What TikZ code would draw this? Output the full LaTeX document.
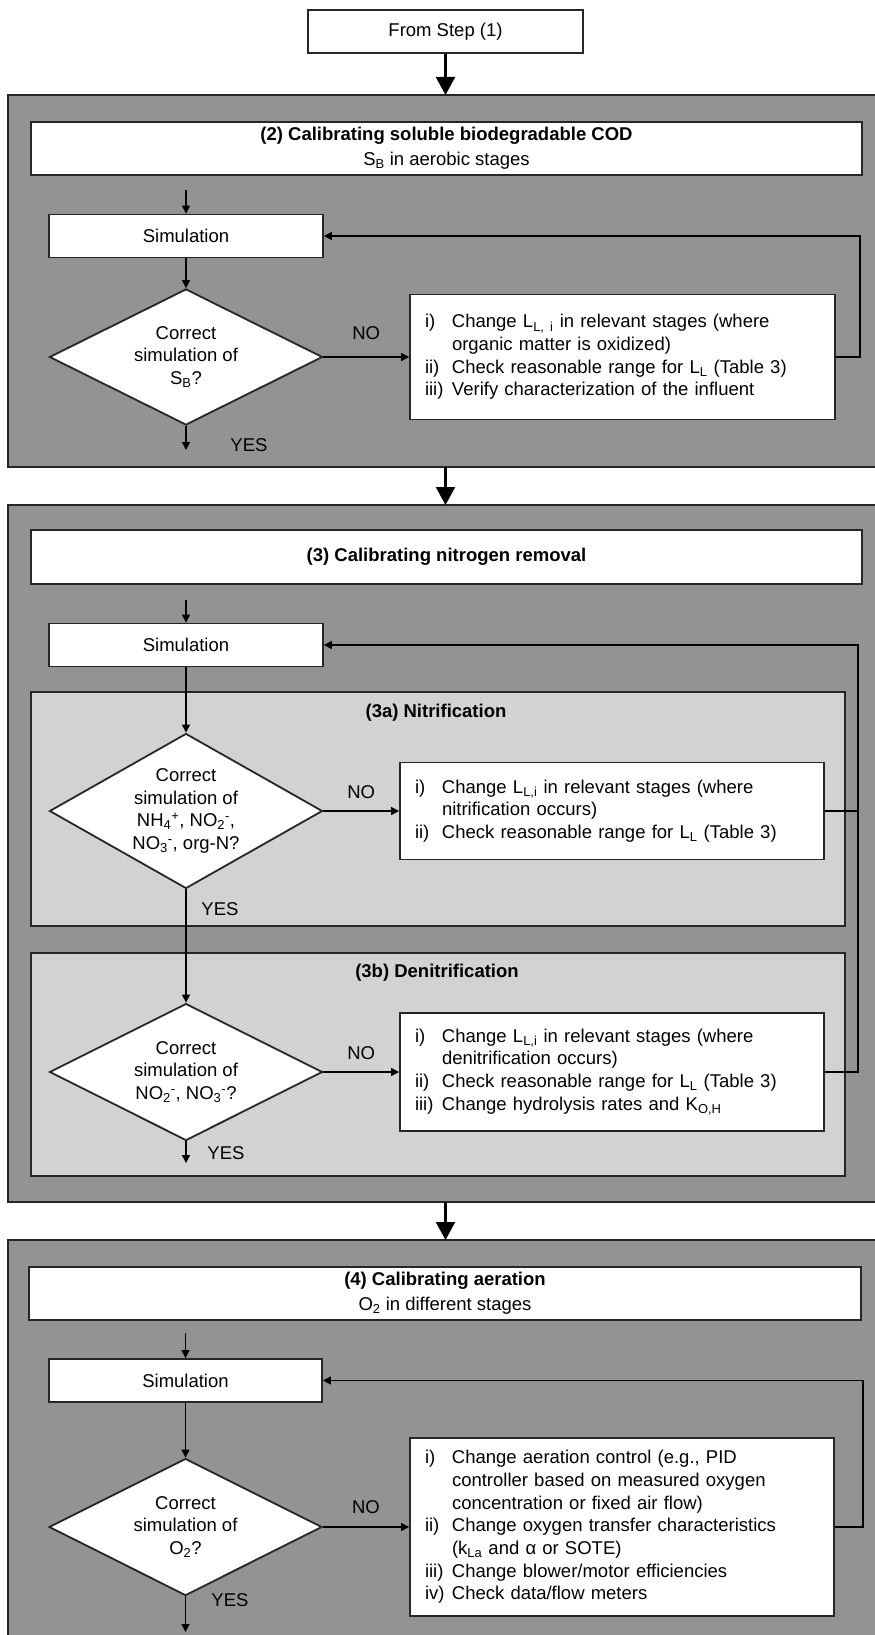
\documentclass[tikz,border=0pt]{standalone}
\usepackage{fontspec}
\setmainfont{Liberation Sans}
\usetikzlibrary{arrows.meta,shapes.geometric}
\definecolor{stagegray}{RGB}{147,147,147}
\definecolor{partgray}{RGB}{210,210,210}
\newcommand{\itm}[1]{\makebox[27pt][l]{#1}}
\newcommand{\cont}{\hspace*{27pt}}
\begin{document}
\begin{tikzpicture}[x=1pt,y=-1pt,
    every node/.style={font=\fontsize{18.5}{22.7}\selectfont},
    stage/.style={fill=stagegray,draw=black!85,line width=2pt},
    part/.style={fill=partgray,draw=black!85,line width=2pt},
    box/.style={draw=black!85,fill=white,line width=1.8pt,minimum height=43pt,inner sep=3pt,align=center},
    cond/.style={diamond,draw=black!85,fill=white,line width=1.8pt,shape aspect=1.75,inner sep=0pt,
      minimum width=273pt,minimum height=137pt,align=center},
    todo/.style={draw=black!85,fill=white,line width=1.8pt,align=left,inner xsep=15pt,inner ysep=3pt},
    lbl/.style={inner sep=0pt},
    link/.style={line width=1.2pt,-{Triangle[length=8pt,width=8pt]}},
    flow/.style={line width=2.2pt,-{Triangle[length=18pt,width=19pt]}}]
  \useasboundingbox (0,0) rectangle (875,1635);
  \clip (0,0) rectangle (875,1635);
  \fill[white] (0,0) rectangle (875,1635);

  \draw[stage] (8,95) rectangle (890,467);
  \node[box,minimum width=275pt] (start) at (445.5,31.5) {From Step (1)};
  \node[box,minimum width=831pt,minimum height=53pt] (head2) at (446.5,148.5)
    {{\bfseries (2) Calibrating soluble biodegradable COD}\\[2pt]S\textsubscript{B} in aerobic stages};
  \node[box,minimum width=274pt] (sim2) at (186,236) {Simulation};
  \node[cond,minimum height=136pt] (chk2) at (186,357) {Correct\\simulation of\\S\textsubscript{B}?};
  \node[todo,text width=395pt,minimum height=125pt] (fix2) at (622.5,357)
    {\itm{i)}Change L\textsubscript{L, i} in relevant stages (where\\
     \cont organic matter is oxidized)\\
     \itm{ii)}Check reasonable range for L\textsubscript{L} (Table 3)\\
     \itm{iii)}Verify characterization of the influent};
  \node[lbl] (yes2) at (249,445) {YES};
  \coordinate (top2) at (445.5,95);
  \coordinate (in2) at (186,190);
  \coordinate (out2) at (186,450);
  \draw[flow] (start) -- (top2);
  \draw[link] (in2) -- (sim2);
  \draw[link] (sim2) -- (chk2);
  \draw[link] (chk2) -- node[lbl,above=17pt] {NO} (fix2);
  \draw[link] (fix2.east) -- ++(24,0) |- (sim2.east);
  \draw[link] (chk2) -- (out2);

  \draw[stage] (8,505) rectangle (890,1202);
  \coordinate (bot2) at (445.5,467);
  \coordinate (top3) at (445.5,505);
  \draw[flow] (bot2) -- (top3);
  \node[box,minimum width=831pt,minimum height=54pt] (head3) at (446.5,557)
    {\bfseries (3) Calibrating nitrogen removal};
  \node[box,minimum width=274pt] (sim3) at (186,645) {Simulation};
  \draw[part] (31,692) rectangle (845,926);
  \draw[part] (31,953) rectangle (845,1176);
  \node[lbl] (t3a) at (436,713) {\bfseries (3a) Nitrification};
  \node[lbl] (t3b) at (437,973) {\bfseries (3b) Denitrification};
  \node[cond,minimum height=155pt] (chk3a) at (186,811)
    {Correct\\simulation of\\NH\textsubscript{4}\textsuperscript{+}, NO\textsubscript{2}\textsuperscript{-},\\NO\textsubscript{3}\textsuperscript{-}, org-N?};
  \node[todo,text width=394pt,minimum height=97pt] (fix3a) at (612,811)
    {\itm{i)}Change L\textsubscript{L,i} in relevant stages (where\\
     \cont nitrification occurs)\\
     \itm{ii)}Check reasonable range for L\textsubscript{L} (Table 3)};
  \node[cond] (chk3b) at (186,1072)
    {Correct\\simulation of\\NO\textsubscript{2}\textsuperscript{-}, NO\textsubscript{3}\textsuperscript{-}?};
  \node[todo,text width=394pt,minimum height=118pt] (fix3b) at (612,1072)
    {\itm{i)}Change L\textsubscript{L,i} in relevant stages (where\\
     \cont denitrification occurs)\\
     \itm{ii)}Check reasonable range for L\textsubscript{L} (Table 3)\\
     \itm{iii)}Change hydrolysis rates and K\textsubscript{O,H}};
  \node[lbl] (yes3a) at (220,909) {YES};
  \node[lbl] (yes3b) at (226,1153) {YES};
  \coordinate (in3) at (186,600);
  \coordinate (ret3) at (858,645);
  \coordinate (out3) at (186,1163);
  \draw[link] (in3) -- (sim3);
  \draw[link] (sim3) -- (chk3a);
  \draw[link] (chk3a) -- node[lbl,above=12pt] {NO} (fix3a);
  \draw[link] (chk3a) -- (chk3b);
  \draw[link] (chk3b) -- node[lbl,above=12pt] {NO} (fix3b);
  \draw[link] (fix3b.east) -| (ret3) -- (sim3.east);
  \draw[line width=1.2pt] (fix3a.east) -- (fix3a.east -| ret3);
  \draw[link] (chk3b) -- (out3);

  \draw[stage] (8,1240) rectangle (890,1660);
  \coordinate (bot3) at (445.5,1202);
  \coordinate (top4) at (445.5,1240);
  \draw[flow] (bot3) -- (top4);
  \node[box,minimum width=832pt,minimum height=53pt] (head4) at (445,1293.5)
    {{\bfseries (4) Calibrating aeration}\\[2pt]O\textsubscript{2} in different stages};
  \node[box,minimum width=273pt] (sim4) at (185.5,1380.5) {Simulation};
  \node[cond] (chk4) at (185.5,1527) {Correct\\simulation of\\O\textsubscript{2}?};
  \node[todo,text width=394pt,minimum height=178pt] (fix4) at (622,1527)
    {\itm{i)}Change aeration control (e.g., PID\\
     \cont controller based on measured oxygen\\
     \cont concentration or fixed air flow)\\
     \itm{ii)}Change oxygen transfer characteristics\\
     \cont (k\textsubscript{La} and α or SOTE)\\
     \itm{iii)}Change blower/motor efficiencies\\
     \itm{iv)}Check data/flow meters};
  \node[lbl] (yes4) at (230,1600) {YES};
  \coordinate (in4) at (185.5,1333);
  \coordinate (out4) at (185.5,1632);
  \draw[link] (in4) -- (sim4);
  \draw[link] (sim4) -- (chk4);
  \draw[link] (chk4) -- node[lbl,above=13pt] {NO} (fix4);
  \draw[link] (fix4.east) -- ++(28,0) |- (sim4.east);
  \draw[link] (chk4) -- (out4);
\end{tikzpicture}
\end{document}
